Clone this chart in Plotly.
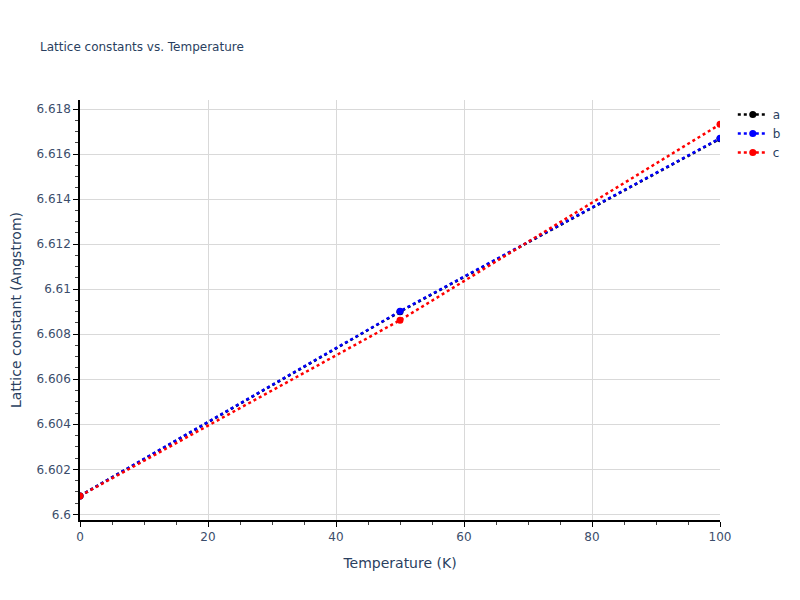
import plotly.graph_objects as go

# Données
temperature = [0, 50, 100]
a_vals = [6.60082, 6.60900, 6.61668]
b_vals = [6.60082, 6.60902, 6.61670]
c_vals = [6.60082, 6.60862, 6.61732]

series = [("a", a_vals, "black"), ("b", b_vals, "blue"), ("c", c_vals, "red")]

fig = go.Figure()
for name, vals, col in series:
    fig.add_trace(go.Scatter(
        x=temperature, y=vals, name=name, mode="lines+markers",
        line=dict(color=col, dash="dot", width=2.5),
        marker=dict(color=col, size=7),
    ))

axis_style = dict(
    showline=True, linecolor="black", linewidth=1.5,
    ticks="outside", tickcolor="black", ticklen=5,
    showgrid=True, gridcolor="#d9d9d9",
    zeroline=False, automargin=False,
    minor=dict(ticks="outside", ticklen=3, tickcolor="#444"),
    tickfont=dict(size=12, color="#3b4d6b"),
    title_font=dict(size=14),
)

fig.update_xaxes(title_text="Temperature (K)", range=[0, 100], dtick=20,
                 **axis_style)
fig.update_xaxes(minor_dtick=5)
fig.update_yaxes(title_text="Lattice constant (Angstrom)", range=[6.59975, 6.6184],
                 dtick=0.002, **axis_style)
fig.update_yaxes(minor_dtick=0.0005)

# la page a une marge de 8 px, on compense dans les marges
fig.update_layout(
    width=800, height=600,
    title=dict(text="Lattice constants vs. Temperature", x=0.04, y=0.943,
               font=dict(size=12)),
    font=dict(family="DejaVu Sans", color="#2a3f5f"),
    plot_bgcolor="white", paper_bgcolor="white",
    margin=dict(l=72, r=88, t=92, b=88),
    legend=dict(font=dict(size=12), y=1.0),
)

fig.write_html("out.html")
